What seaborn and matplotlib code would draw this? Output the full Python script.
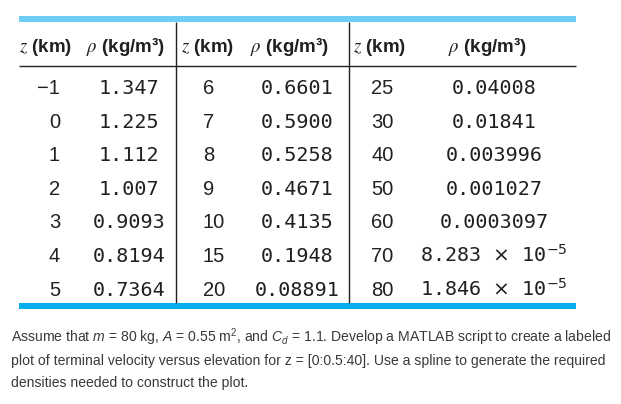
import matplotlib
matplotlib.use("Agg")
import matplotlib.pyplot as plt
import seaborn as sns

# Dados da tabela (altitude em km, densidade do ar em kg/m^3)
z_col1 = [-1, 0, 1, 2, 3, 4, 5]
rho_col1 = [1.347, 1.225, 1.112, 1.007, 0.9093, 0.8194, 0.7364]
z_col2 = [6, 7, 8, 9, 10, 15, 20]
rho_col2 = [0.6601, 0.5900, 0.5258, 0.4671, 0.4135, 0.1948, 0.08891]
z_col3 = [25, 30, 40, 50, 60, 70, 80]
rho_col3 = [0.04008, 0.01841, 0.003996, 0.001027, 0.0003097, 8.283e-5, 1.846e-5]

header_z = r"$z$ (km)"
header_rho = r"$\rho$ (kg/m³)"

paragraph = [
    r"Assume that $m$ = 80 kg, $A$ = 0.55 m$^2$, and $C_d$ = 1.1. Develop a MATLAB script to create a labeled",
    "plot of terminal velocity versus elevation for z = [0:0.5:40]. Use a spline to generate the required",
    "densities needed to construct the plot.",
]

sns.set_theme(style="white")
plt.rcParams["mathtext.fontset"] = "custom"
plt.rcParams["mathtext.rm"] = "Liberation Sans"
plt.rcParams["mathtext.it"] = "Liberation Sans:italic"
plt.rcParams["mathtext.bf"] = "Liberation Sans:bold"


def fmt_rho(v):
    s = f"{v:#.4g}"
    if "e" in s:
        mant, exp = s.split("e")
        return mant + r" $\times$ 10$^{" + str(int(exp)) + "}$"
    return s


def fmt_z(v):
    return str(v).replace("-", "\u2212")


fig = plt.figure(figsize=(6.21, 4.04), dpi=100)
ax = fig.add_axes([0, 0, 1, 1])
ax.set_xlim(0, 621)
ax.set_ylim(404, 0)
ax.axis("off")

# faixas azuis e linhas da tabela
ax.fill_between([19, 576], 16, 22, color="#6dcff6", lw=0)
ax.fill_between([19, 576], 303, 309, color="#00aeef", lw=0)
ax.hlines(66, 19, 576, color="#231f20", lw=1.0)
ax.vlines([176, 349], 22, 303, color="#231f20", lw=1.0)

# cabeçalhos
for xz, xr in [(19, 86), (181, 250), (353, 448)]:
    ax.text(xz, 52, header_z, ha="left", va="baseline", fontsize=13.5,
            fontweight="bold", family="Liberation Sans", math_fontfamily="stix",
            color="#231f20")
    ax.text(xr, 52, header_rho, ha="left", va="baseline", fontsize=13.5,
            fontweight="bold", family="Liberation Sans", math_fontfamily="stix",
            color="#231f20")

row_y = [87 + 33.6 * i for i in range(len(z_col1))]

columns = [
    (z_col1, rho_col1, 60, "right", 129),
    (z_col2, rho_col2, 203, "left", 297),
    (z_col3, rho_col3, 371, "left", 494),
]
for zs, rhos, xz, haz, xr in columns:
    for y, zv, rv in zip(row_y, zs, rhos):
        ax.text(xz, y + 7, fmt_z(zv), ha=haz, va="baseline", fontsize=14.5,
                family="Liberation Sans", color="#231f20")
        ax.text(xr, y + 7, fmt_rho(rv), ha="center", va="baseline", fontsize=14.5,
                family="DejaVu Sans Mono", color="#231f20",
                math_fontfamily="dejavusans")

for i, line in enumerate(paragraph):
    ax.text(11, 342 + 22.5 * i, line, ha="left", va="baseline", fontsize=10.1,
            family="Liberation Sans", color="#3a3a3a")

fig.savefig("out.png", dpi=100)
